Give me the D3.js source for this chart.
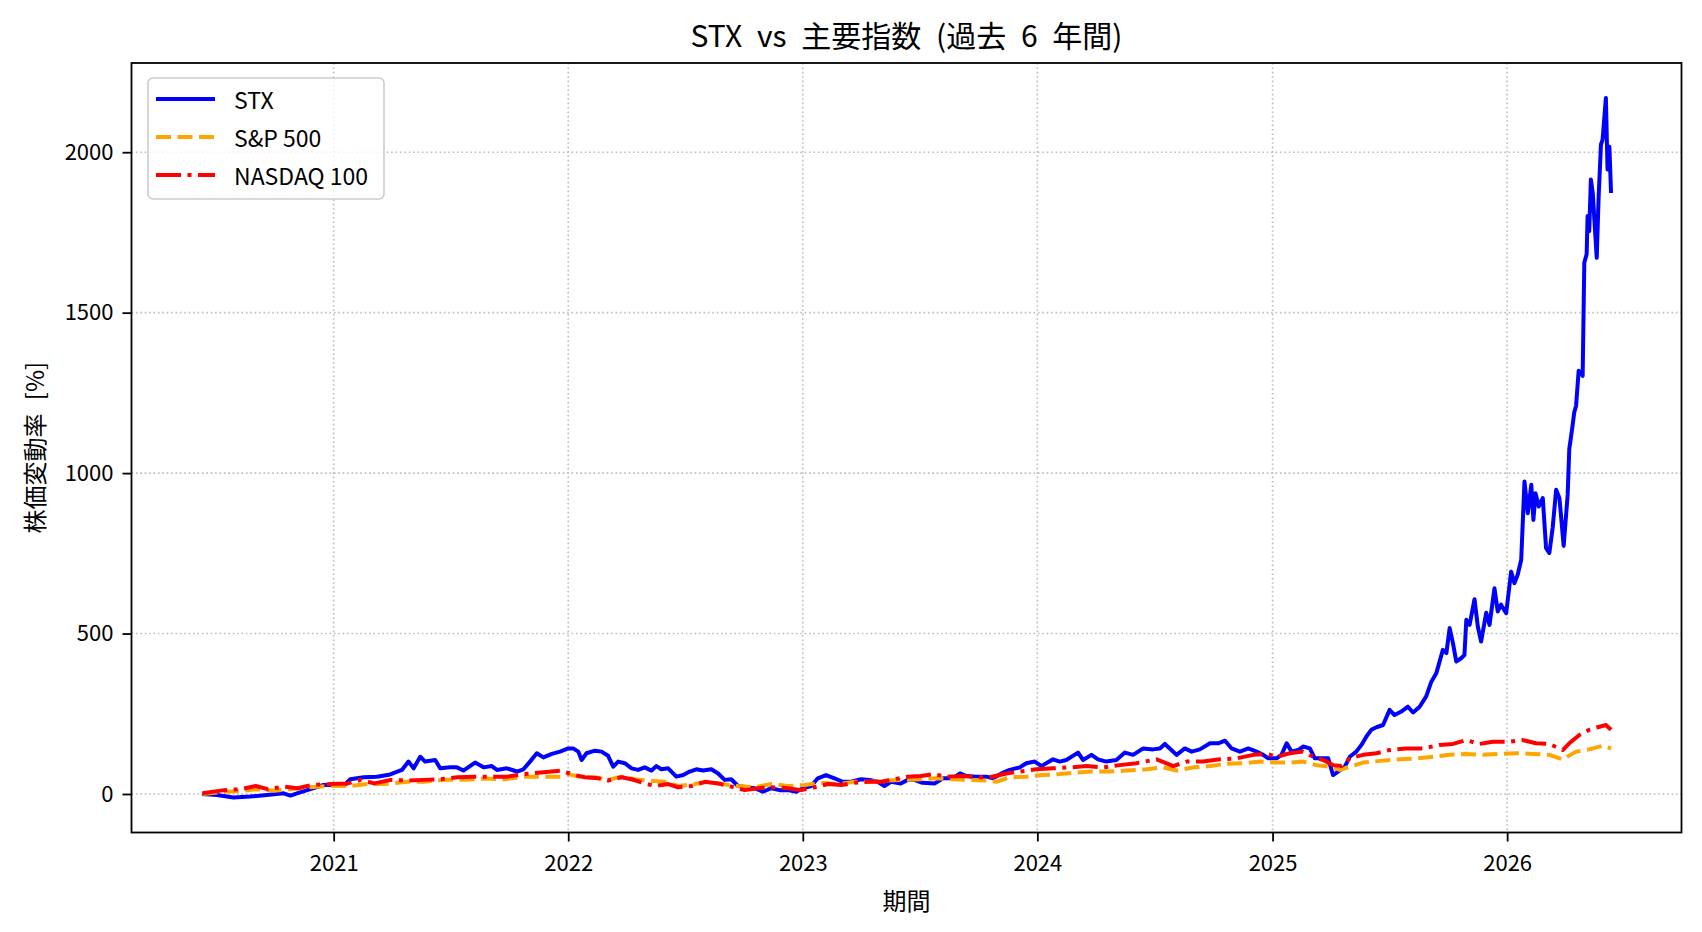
<!DOCTYPE html>
<html lang="ja">
<head>
<meta charset="utf-8">
<title>STX vs 主要指数</title>
<script src="https://cdn.jsdelivr.net/npm/d3@7"></script>
<style>
    html, body { margin: 0; padding: 0; background: #ffffff; }
    svg { display: block; font-family: "Noto Sans CJK JP", "Noto Sans", sans-serif; }
    .grid line { stroke: #bcbcbc; stroke-width: 1.6; stroke-dasharray: 1.6 2.8; }
    .axis text { font-size: 22px; fill: #000; }
    .axis line { stroke: #000; stroke-width: 1.8; }
    .frame { fill: none; stroke: #000; stroke-width: 1.8; }
    .series { fill: none; stroke-linejoin: round; }
    .legend-box { fill: #ffffff; fill-opacity: 0.8; stroke: #cccccc; stroke-width: 1.6; }
    .legend-text { font-size: 23px; fill: #000; }
</style>
</head>
<body>
<svg id="chart" width="1702" height="932"></svg>
<script>
// Valeurs : [annee decimale, variation en %].
const stxData = [
    [2020.440, 0], [2020.504, -3], [2020.574, -11], [2020.645, -8], [2020.716, -3],
    [2020.787, 2], [2020.816, -5], [2020.844, 2], [2020.901, 15], [2020.957, 28],
    [2021.000, 28], [2021.043, 25], [2021.071, 46], [2021.128, 52], [2021.185, 54],
    [2021.241, 61], [2021.291, 75], [2021.319, 101], [2021.341, 80], [2021.369, 116],
    [2021.390, 101], [2021.433, 106], [2021.454, 80], [2021.497, 83], [2021.525, 83],
    [2021.553, 73], [2021.603, 98], [2021.639, 83], [2021.674, 87], [2021.696, 75],
    [2021.738, 80], [2021.781, 70], [2021.809, 77], [2021.837, 101], [2021.866, 127],
    [2021.894, 114], [2021.930, 125], [2021.965, 132], [2022.000, 142], [2022.021, 142],
    [2022.043, 132], [2022.057, 106], [2022.078, 127], [2022.114, 135], [2022.142, 132],
    [2022.170, 119], [2022.192, 85], [2022.213, 101], [2022.241, 96], [2022.270, 80],
    [2022.298, 75], [2022.326, 83], [2022.355, 73], [2022.376, 87], [2022.397, 77],
    [2022.426, 80], [2022.461, 54], [2022.490, 59], [2022.518, 70], [2022.546, 77],
    [2022.575, 73], [2022.610, 77], [2022.639, 64], [2022.667, 44], [2022.695, 46],
    [2022.724, 25], [2022.759, 21], [2022.795, 18], [2022.830, 7], [2022.866, 18],
    [2022.901, 12], [2022.937, 12], [2022.972, 7], [2023.000, 18], [2023.036, 25],
    [2023.064, 49], [2023.099, 59], [2023.135, 49], [2023.170, 38], [2023.206, 38],
    [2023.248, 46], [2023.284, 44], [2023.319, 38], [2023.348, 25], [2023.376, 38],
    [2023.418, 33], [2023.447, 44], [2023.475, 44], [2023.510, 35], [2023.563, 33],
    [2023.598, 49], [2023.641, 49], [2023.670, 64], [2023.698, 56], [2023.740, 54],
    [2023.783, 54], [2023.811, 49], [2023.847, 64], [2023.882, 75], [2023.925, 83],
    [2023.953, 96], [2023.989, 101], [2024.017, 87], [2024.067, 108], [2024.095, 101],
    [2024.123, 106], [2024.173, 129], [2024.194, 106], [2024.230, 122], [2024.258, 108],
    [2024.293, 101], [2024.336, 106], [2024.372, 129], [2024.407, 122], [2024.450, 142],
    [2024.492, 139], [2024.521, 142], [2024.542, 156], [2024.563, 142], [2024.592, 122],
    [2024.627, 142], [2024.656, 132], [2024.691, 139], [2024.734, 158], [2024.769, 158],
    [2024.798, 166], [2024.826, 142], [2024.861, 132], [2024.897, 142], [2024.932, 132],
    [2024.960, 122], [2024.982, 111], [2025.017, 111], [2025.038, 122], [2025.060, 158],
    [2025.081, 132], [2025.109, 137], [2025.130, 148], [2025.159, 142], [2025.180, 111],
    [2025.209, 111], [2025.237, 111], [2025.258, 59], [2025.279, 70], [2025.308, 85],
    [2025.329, 116], [2025.357, 132], [2025.379, 153], [2025.400, 179], [2025.421, 200],
    [2025.443, 208], [2025.471, 215], [2025.499, 262], [2025.520, 246], [2025.549, 257],
    [2025.577, 272], [2025.599, 254], [2025.627, 272], [2025.655, 304], [2025.677, 350],
    [2025.698, 376], [2025.726, 449], [2025.741, 439], [2025.755, 517], [2025.769, 470],
    [2025.783, 413], [2025.804, 423], [2025.818, 433], [2025.826, 543], [2025.840, 527],
    [2025.861, 607], [2025.875, 522], [2025.889, 475], [2025.911, 565], [2025.925, 527],
    [2025.946, 641], [2025.960, 569], [2025.974, 590], [2025.996, 563], [2026.017, 693],
    [2026.031, 657], [2026.045, 683], [2026.060, 730], [2026.074, 974], [2026.088, 875],
    [2026.103, 964], [2026.112, 854], [2026.121, 937], [2026.135, 896], [2026.152, 922],
    [2026.166, 766], [2026.180, 751], [2026.194, 829], [2026.209, 948], [2026.223, 922],
    [2026.241, 773], [2026.258, 932], [2026.265, 1075], [2026.279, 1148], [2026.286, 1189],
    [2026.294, 1210], [2026.305, 1319], [2026.322, 1303], [2026.329, 1656], [2026.339, 1682],
    [2026.343, 1801], [2026.350, 1754], [2026.357, 1915], [2026.365, 1873], [2026.382, 1671],
    [2026.390, 1858], [2026.400, 2024], [2026.407, 2039], [2026.421, 2169], [2026.428, 1946],
    [2026.436, 2017], [2026.443, 1873]
];

const sp500Data = [
    [2020.442, 0], [2020.535, 7], [2020.606, 9], [2020.676, 15], [2020.747, 10],
    [2020.818, 15], [2020.889, 21], [2020.989, 25], [2021.074, 25], [2021.145, 31],
    [2021.216, 31], [2021.315, 38], [2021.386, 38], [2021.471, 44], [2021.556, 44],
    [2021.641, 48], [2021.727, 46], [2021.812, 54], [2021.897, 54], [2021.968, 54],
    [2022.000, 62], [2022.057, 52], [2022.114, 52], [2022.170, 44], [2022.227, 54],
    [2022.284, 46], [2022.341, 42], [2022.412, 38], [2022.468, 25], [2022.539, 31],
    [2022.596, 38], [2022.653, 31], [2022.724, 25], [2022.795, 21], [2022.866, 31],
    [2022.937, 25], [2023.008, 28], [2023.078, 35], [2023.149, 31], [2023.220, 38],
    [2023.291, 38], [2023.362, 42], [2023.433, 44], [2023.504, 46], [2023.570, 49],
    [2023.641, 46], [2023.712, 44], [2023.783, 42], [2023.825, 38], [2023.882, 52],
    [2023.953, 54], [2024.024, 59], [2024.095, 62], [2024.166, 67], [2024.237, 70],
    [2024.308, 70], [2024.379, 73], [2024.464, 77], [2024.535, 83], [2024.592, 73],
    [2024.663, 83], [2024.734, 87], [2024.805, 94], [2024.876, 96], [2024.947, 101],
    [2025.017, 98], [2025.074, 98], [2025.130, 101], [2025.187, 90], [2025.244, 85],
    [2025.287, 75], [2025.329, 85], [2025.386, 98], [2025.471, 104], [2025.542, 108],
    [2025.613, 111], [2025.684, 116], [2025.755, 122], [2025.826, 125], [2025.896, 122],
    [2025.967, 125], [2026.038, 127], [2026.109, 125], [2026.180, 122], [2026.237, 108],
    [2026.294, 132], [2026.350, 139], [2026.407, 150], [2026.443, 142]
];

const nasdaqData = [
    [2020.442, 2], [2020.535, 12], [2020.606, 15], [2020.669, 25], [2020.719, 15],
    [2020.790, 23], [2020.847, 18], [2020.904, 28], [2020.989, 31], [2021.060, 33],
    [2021.116, 44], [2021.173, 33], [2021.244, 44], [2021.315, 42], [2021.386, 44],
    [2021.457, 46], [2021.528, 52], [2021.599, 54], [2021.670, 54], [2021.741, 54],
    [2021.812, 62], [2021.883, 67], [2021.968, 73], [2022.028, 59], [2022.071, 52],
    [2022.128, 49], [2022.170, 42], [2022.227, 52], [2022.270, 46], [2022.326, 33],
    [2022.369, 25], [2022.426, 31], [2022.468, 21], [2022.525, 25], [2022.582, 38],
    [2022.639, 33], [2022.695, 23], [2022.752, 12], [2022.809, 18], [2022.866, 21],
    [2022.937, 18], [2022.993, 12], [2023.050, 21], [2023.107, 31], [2023.164, 28],
    [2023.220, 35], [2023.277, 38], [2023.334, 38], [2023.391, 46], [2023.447, 54],
    [2023.504, 56], [2023.556, 62], [2023.613, 54], [2023.684, 56], [2023.755, 52],
    [2023.797, 52], [2023.868, 64], [2023.925, 70], [2023.996, 77], [2024.067, 80],
    [2024.138, 83], [2024.209, 87], [2024.280, 83], [2024.350, 90], [2024.421, 96],
    [2024.507, 108], [2024.578, 87], [2024.634, 101], [2024.705, 101], [2024.776, 108],
    [2024.847, 111], [2024.918, 122], [2024.975, 125], [2025.017, 116], [2025.074, 127],
    [2025.130, 132], [2025.173, 116], [2025.216, 106], [2025.258, 90], [2025.294, 87],
    [2025.329, 111], [2025.386, 122], [2025.443, 127], [2025.499, 137], [2025.570, 142],
    [2025.641, 142], [2025.712, 153], [2025.769, 156], [2025.826, 168], [2025.882, 156],
    [2025.939, 163], [2026.010, 163], [2026.067, 168], [2026.123, 158], [2026.180, 156],
    [2026.237, 137], [2026.265, 158], [2026.308, 184], [2026.350, 200], [2026.386, 208],
    [2026.421, 215], [2026.443, 200]
];

const seriesNames = ["STX", "S&P 500", "NASDAQ 100"];
const yearTicks = [2021, 2022, 2023, 2024, 2025, 2026];
const valueTicks = [0, 500, 1000, 1500, 2000];

// Styles des courbes (a part des donnees).
const seriesStyles = [
    { color: "#0000ff", dash: null },
    { color: "#ffa500", dash: "15 6.5" },
    { color: "#ff0000", dash: "25 6.5 4 6.5" }
];

const width = 1702;
const height = 932;
const plot = { left: 131.5, right: 1681.5, top: 63, bottom: 832.5 };
const lineWidth = 4;

// Annee decimale -> Date UTC.
function toDate(year) {
    const y = Math.floor(year);
    const start = Date.UTC(y, 0, 1);
    const end = Date.UTC(y + 1, 0, 1);
    return new Date(start + (year - y) * (end - start));
}

// Marge de 5 % comme matplotlib.
function paddedExtent(values) {
    const ext = d3.extent(values);
    const pad = (ext[1] - ext[0]) * 0.05;
    return [ext[0] - pad, ext[1] + pad];
}

const allSeries = [stxData, sp500Data, nasdaqData];
const allPoints = allSeries.flat();

const xDomain = paddedExtent(allPoints.map(function(d) { return toDate(d[0]).getTime(); }));
const x = d3.scaleUtc()
    .domain([new Date(xDomain[0]), new Date(xDomain[1])])
    .range([plot.left, plot.right]);

const y = d3.scaleLinear()
    .domain(paddedExtent(allPoints.map(function(d) { return d[1]; })))
    .range([plot.bottom, plot.top]);

const svg = d3.select("#chart");

svg.append("rect")
    .attr("width", width)
    .attr("height", height)
    .attr("fill", "#ffffff");

// Grille pointillee.
const grid = svg.append("g").attr("class", "grid");

grid.selectAll(".gx")
    .data(yearTicks)
    .enter()
    .append("line")
    .attr("x1", function(d) { return x(toDate(d)); })
    .attr("x2", function(d) { return x(toDate(d)); })
    .attr("y1", plot.top)
    .attr("y2", plot.bottom);

grid.selectAll(".gy")
    .data(valueTicks)
    .enter()
    .append("line")
    .attr("x1", plot.left)
    .attr("x2", plot.right)
    .attr("y1", function(d) { return y(d); })
    .attr("y2", function(d) { return y(d); });

// Courbes.
const line = d3.line()
    .x(function(d) { return x(toDate(d[0])); })
    .y(function(d) { return y(d[1]); });

svg.selectAll(".series")
    .data(allSeries)
    .enter()
    .append("path")
    .attr("class", "series")
    .attr("d", line)
    .attr("stroke", function(_, i) { return seriesStyles[i].color; })
    .attr("stroke-width", lineWidth)
    .attr("stroke-dasharray", function(_, i) { return seriesStyles[i].dash; });

// Axes.
const xAxis = d3.axisBottom(x)
    .tickValues(yearTicks.map(toDate))
    .tickFormat(d3.utcFormat("%Y"))
    .tickSize(9)
    .tickPadding(14);

const yAxis = d3.axisLeft(y)
    .tickValues(valueTicks)
    .tickFormat(d3.format("d"))
    .tickSize(9)
    .tickPadding(9);

svg.append("g")
    .attr("class", "axis")
    .attr("transform", "translate(0," + plot.bottom + ")")
    .call(xAxis)
    .call(function(g) { g.select(".domain").remove(); });

svg.append("g")
    .attr("class", "axis")
    .attr("transform", "translate(" + plot.left + ",0)")
    .call(yAxis)
    .call(function(g) { g.select(".domain").remove(); });

svg.selectAll(".axis").attr("font-family", null).attr("font-size", null);

svg.append("rect")
    .attr("class", "frame")
    .attr("x", plot.left)
    .attr("y", plot.top)
    .attr("width", plot.right - plot.left)
    .attr("height", plot.bottom - plot.top);

// Titres.
svg.append("text")
    .attr("x", (plot.left + plot.right) / 2)
    .attr("y", 34)
    .attr("text-anchor", "middle")
    .attr("dominant-baseline", "central")
    .attr("font-size", 30)
    .attr("word-spacing", 8)
    .text("STX vs 主要指数 (過去 6 年間)");

svg.append("text")
    .attr("x", (plot.left + plot.right) / 2)
    .attr("y", 899)
    .attr("text-anchor", "middle")
    .attr("dominant-baseline", "central")
    .attr("font-size", 24)
    .text("期間");

svg.append("text")
    .attr("transform", "translate(33," + (plot.top + plot.bottom) / 2 + ") rotate(-90)")
    .attr("text-anchor", "middle")
    .attr("dominant-baseline", "central")
    .attr("font-size", 24)
    .attr("word-spacing", 8)
    .text("株価変動率 [%]");

// Legende.
const legend = svg.append("g").attr("transform", "translate(148,78)");

legend.append("rect")
    .attr("class", "legend-box")
    .attr("width", 236)
    .attr("height", 121)
    .attr("rx", 5);

const rows = legend.selectAll(".legend-row")
    .data(seriesNames)
    .enter()
    .append("g")
    .attr("class", "legend-row")
    .attr("transform", function(_, i) { return "translate(0," + (21 + i * 38) + ")"; });

rows.append("line")
    .attr("x1", 8)
    .attr("x2", 67)
    .attr("stroke", function(_, i) { return seriesStyles[i].color; })
    .attr("stroke-width", lineWidth)
    .attr("stroke-dasharray", function(_, i) { return seriesStyles[i].dash; });

rows.append("text")
    .attr("class", "legend-text")
    .attr("x", 86)
    .attr("dominant-baseline", "central")
    .text(function(d) { return d; });
</script>
</body>
</html>
